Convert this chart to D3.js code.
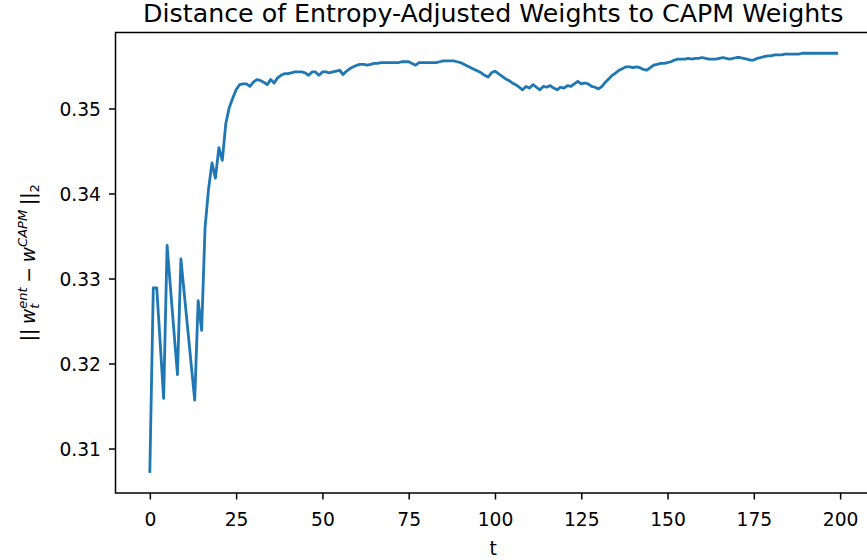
<!DOCTYPE html>
<html>
<head>
<meta charset="utf-8">
<script src="https://cdn.jsdelivr.net/npm/d3@7"></script>
<style>
  body { margin: 0; background: #fff; }
  text { font-family: "DejaVu Sans", sans-serif; fill: #000; }
</style>
</head>
<body>
<div id="chart"></div>
<script>
// tick labels
var xTicks = [0, 25, 50, 75, 100, 125, 150, 175, 200];
var yTicks = [0.31, 0.32, 0.33, 0.34, 0.35];

// ||w_t^ent - w^CAPM||_2 for t = 0..199
var distance = [
  0.3073, 0.3289, 0.3289, 0.3224, 0.3159, 0.3339, 0.3288, 0.3237, 0.3187, 0.3323,
  0.3281, 0.3240, 0.3198, 0.3157, 0.3274, 0.3239, 0.3360, 0.3405, 0.3436, 0.3418,
  0.3454, 0.3439, 0.3482, 0.3501, 0.3512, 0.3522, 0.3528, 0.3529, 0.3529, 0.3526,
  0.3531, 0.3534, 0.3533, 0.3531, 0.3528, 0.3534, 0.3530, 0.3536, 0.3539, 0.3541,
  0.3541, 0.3542, 0.3543, 0.3543, 0.3543, 0.3542, 0.3539, 0.3543, 0.3543, 0.3539,
  0.3543, 0.3543, 0.3542, 0.3543, 0.3544, 0.3545, 0.3540, 0.3544, 0.3547, 0.3549,
  0.3551, 0.3552, 0.3552, 0.3551, 0.3552, 0.3553, 0.3553, 0.3554, 0.3554, 0.3554,
  0.3554, 0.3554, 0.3554, 0.3555, 0.3555, 0.3555, 0.3553, 0.3551, 0.3554, 0.3554,
  0.3554, 0.3554, 0.3554, 0.3554, 0.3555, 0.3556, 0.3556, 0.3556, 0.3556, 0.3555,
  0.3554, 0.3552, 0.3550, 0.3548, 0.3546, 0.3544, 0.3542, 0.3539, 0.3537, 0.3542,
  0.3544, 0.3541, 0.3538, 0.3535, 0.3533, 0.3530, 0.3528, 0.3525, 0.3522, 0.3526,
  0.3524, 0.3528, 0.3525, 0.3522, 0.3526, 0.3525, 0.3527, 0.3524, 0.3522, 0.3525,
  0.3524, 0.3527, 0.3526, 0.3529, 0.3532, 0.3529, 0.3530, 0.3529, 0.3526, 0.3525,
  0.3523, 0.3526, 0.3531, 0.3535, 0.3539, 0.3542, 0.3545, 0.3547, 0.3549, 0.3549,
  0.3548, 0.3549, 0.3548, 0.3546, 0.3545, 0.3548, 0.3551, 0.3552, 0.3553, 0.3553,
  0.3554, 0.3555, 0.3557, 0.3558, 0.3558, 0.3558, 0.3559, 0.3558, 0.3559, 0.3559,
  0.3560, 0.3559, 0.3558, 0.3558, 0.3558, 0.3559, 0.3560, 0.3559, 0.3558, 0.3559,
  0.3560, 0.3560, 0.3559, 0.3558, 0.3557, 0.3557, 0.3559, 0.3560, 0.3561, 0.3562,
  0.3562, 0.3563, 0.3563, 0.3563, 0.3564, 0.3564, 0.3564, 0.3564, 0.3564, 0.3565,
  0.3565, 0.3565, 0.3565, 0.3565, 0.3565, 0.3565, 0.3565, 0.3565, 0.3565, 0.3565
];

var width = 867,
    height = 560,
    axLeft = 115.5, axRight = 871,
    axTop = 32.5, axBottom = 493,
    fs = 18.7;

var x = d3.scaleLinear()
  .domain([-9.95, 208.95])
  .range([axLeft, axRight]);

var y = d3.scaleLinear()
  .domain([0.30477, 0.35894])
  .range([axBottom, axTop]);

var svg = d3.select("#chart").append("svg")
  .attr("width", width)
  .attr("height", height);

// x axis
var gx = svg.append("g")
  .attr("transform", "translate(0," + axBottom + ")")
  .call(d3.axisBottom(x).tickValues(xTicks).tickSize(6.5).tickFormat(d3.format("d")));
gx.selectAll("text")
  .attr("y", 33).attr("dy", null)
  .style("font-size", fs + "px");

// y axis
var gy = svg.append("g")
  .attr("transform", "translate(" + axLeft + ",0)")
  .call(d3.axisLeft(y).tickValues(yTicks).tickSize(6.5).tickPadding(8).tickFormat(d3.format(".2f")));
gy.selectAll("text")
  .attr("dy", "0.36em")
  .style("font-size", fs + "px");

svg.selectAll(".domain").remove();
svg.selectAll(".tick line").attr("stroke", "#000").attr("stroke-width", 1.5);

// spines
svg.append("rect")
  .attr("x", axLeft).attr("y", axTop)
  .attr("width", axRight - axLeft).attr("height", axBottom - axTop)
  .attr("fill", "none")
  .attr("stroke", "#000")
  .attr("stroke-width", 1.5);

// the line
var line = d3.line()
  .x(function(d, i) { return x(i); })
  .y(function(d) { return y(d); });

svg.append("path")
  .datum(distance)
  .attr("d", line)
  .attr("fill", "none")
  .attr("stroke", "#1f77b4")
  .attr("stroke-width", 2.8)
  .attr("stroke-linejoin", "round")
  .attr("stroke-linecap", "square");

// title
svg.append("text")
  .attr("x", (axLeft + axRight) / 2)
  .attr("y", 22)
  .attr("text-anchor", "middle")
  .style("font-size", "25.3px")
  .text("Distance of Entropy-Adjusted Weights to CAPM Weights");

// x label
svg.append("text")
  .attr("x", (axLeft + axRight) / 2)
  .attr("y", 555)
  .attr("text-anchor", "middle")
  .style("font-size", fs + "px")
  .text("t");

// y label, mathtext-ish: || w_t^ent - w^CAPM ||_2
var yl = svg.append("g")
  .attr("transform", "translate(34.5," + (axTop + axBottom) / 2 + ") rotate(-90)");
var inner = yl.append("g");

function put(str, italic, scale, shift, px) {
  var t = inner.append("text")
    .attr("x", px)
    .attr("y", shift * fs)
    .style("font-size", (fs * scale) + "px")
    .style("font-style", italic ? "italic" : "normal")
    .text(str);
  return t.node().getComputedTextLength();
}

var pos = 0;
pos += put("||", false, 1, 0, pos) + 0.25 * fs;
pos += put("w", true, 1, 0, pos);
var sub = put("t", true, 0.7, 0.25, pos);
var sup = put("ent", true, 0.7, -0.42, pos);
pos += Math.max(sub, sup) + 0.25 * fs;
pos += put("\u2212", false, 1, 0, pos) + 0.25 * fs;
pos += put("w", true, 1, 0, pos);
pos += put("CAPM", true, 0.7, -0.42, pos) + 0.25 * fs;
pos += put("||", false, 1, 0, pos);
pos += put("2", false, 0.7, 0.25, pos);
inner.attr("transform", "translate(" + (-pos / 2) + ",0)");
</script>
</body>
</html>
